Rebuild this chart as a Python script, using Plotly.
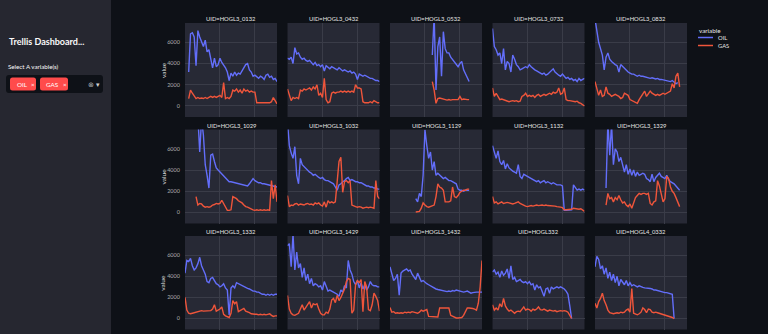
import plotly.graph_objects as go
from plotly.subplots import make_subplots

N = None
# shared time axis (months since first record, step 2)
months = list(range(0, 101, 2))

uid_titles = [
    "UID=HOGL3_0132", "UID=HOGL3_0432", "UID=HOGL3_0532", "UID=HOGL3_0732", "UID=HOGL3_0832",
    "UID=HOGL3_1029", "UID=HOGL3_1032", "UID=HOGL3_1129", "UID=HOGL3_1132", "UID=HOGL3_1329",
    "UID=HOGL3_1332", "UID=HOGL3_1429", "UID=HOGL3_1432", "UID=HOGL332", "UID=HOGL4_0332",
]
variables = ["OIL", "GAS"]
y_ticks = [0, 2000, 4000, 6000]

oil_0132 = [N, N, 3200, 6800, 6900, 6500, 3800, 7100, 6500, 6100,
            5600, 6200, 5100, 5300, 4300, 3600, 4500, 3700, 3900, 4500,
            4100, 3900, 3600, 3200, 2400, 3100, 2800, 3200, 2900, 3100,
            3000, 3300, 3600, 3900, 4000, 3400, 3200, 2800, 2900, 2700,
            2600, 2800, 2700, 2500, 2900, 3000, 2700, 2800, 2500, 2600,
            2300]
gas_0132 = [N, N, 700, 1500, 1200, 1000, 700, 800, 700, 750,
            700, 800, 700, 800, 900, 800, 900, 800, 900, 1000,
            800, 2200, 700, 800, 700, 900, 1500, 1400, 1600, 1300,
            1500, 1200, 1600, 1400, 1500, 1300, 1400, 1300, 1300, 300,
            300, 300, 300, 300, 300, 300, 300, 400, 800, 500,
            200]

oil_0432 = [4500, 4400, 4600, 4000, 5500, 4900, 5000, 4600, 4400, 4500,
            4300, 4200, 4300, 4100, 3900, 4100, 3800, 3900, 3700, 3900,
            3300, 3800, 3600, 3500, 3700, 3600, 3500, 3400, 3600, 3400,
            3300, 3400, 3300, 3200, 3300, 3100, 3200, 3000, 2500, 3000,
            2900, 2800, 2900, 2800, 2700, 2600, 2600, 2500, 2400, 2400,
            2300]
gas_0432 = [1600, 1000, 500, 800, 700, 800, 700, 1500, 1400, 1600,
            1500, 1600, 1700, 1500, 1800, 1600, 2000, 1000, 1200, 800,
            2600, 600, 300, 400, 1200, 1300, 1200, 1300, 1300, 1400,
            1300, 1400, 1300, 1400, 1300, 1400, 1300, 2000, 1700, 1700,
            1600, 400, 300, 300, 300, 400, 300, 500, 400, 300,
            300]

oil_0532 = [N, N, N, N, N, N, N, N, N, N,
            N, N, N, N, N, N, N, N, N, N,
            N, N, N, 4800, 8500, 1500, 5600, 6500, 2800, 7000,
            5400, 5000, 5000, 4600, 4400, 4200, 3900, 3700, 4000, 4200,
            3400, 3000, 2700, 2300, N, N, N, N, N, N,
            N]
gas_0532 = [N, N, N, N, N, N, N, N, N, N,
            N, N, N, N, N, N, N, N, N, N,
            N, N, N, 2300, 1500, 250, 700, 750, 700, 700,
            600, 550, 600, 550, 600, 600, 550, 600, 900, 600,
            650, 600, 600, 600, N, N, N, N, N, N,
            N]

oil_0732 = [7300, 5600, 5300, 4800, 5000, 4000, 5400, 3400, 4200, 4000,
            3200, 4800, 4400, 3900, 3700, 3400, 3500, 3600, 3700, 3600,
            3900, 3700, 3500, 3400, 3300, 3200, 3100, 3000, 3100, 2900,
            3000, 3200, 3400, 3500, 3200, 3000, 2900, 2800, 3000, 2800,
            2600, 2700, 2500, 2600, 2400, 2500, 2300, 2600, 2400, 2500,
            2600]
gas_0732 = [1700, 900, 1200, 900, 600, 650, 600, 500, 450, 400,
            450, 500, 450, 500, 400, 450, 900, 1000, 1200, 900,
            1000, 900, 1000, 800, 1000, 1100, 900, 1000, 1100, 1000,
            1100, 1200, 1100, 1300, 1200, 1300, 1700, 1100, 1200, 1700,
            600, 500, 500, 450, 450, 400, 450, 300, 250, 150,
            0]

oil_0832 = [8200, 7000, 6000, 5400, 4800, 3400, 4600, 5000, 4400, 4200,
            4000, 3900, 3800, 3200, 3900, 3700, 3500, 3400, 3200, 3100,
            3000, 3000, 2900, 2800, 2900, 2800, 2800, 2750, 2700, 2700,
            2600, 2650, 2600, 2550, 2600, 2500, 2500, 2450, 2400, 2400,
            2300, 2300, 2400, 2200, 2100, 2200, N, N, N, N,
            N]
gas_0832 = [2300, 1500, 1000, 1500, 900, 1000, 1800, 1200, 1100, 900,
            1000, 1100, 1000, 900, 700, 800, 1200, 1100, 1000, 600,
            500, 400, 300, 250, 600, 900, 1100, 1400, 900, 1100,
            1400, 1200, 1100, 1000, 1100, 1000, 1100, 1200, 1100, 1200,
            1300, 1400, 2100, 1700, 2800, 3100, 1800, N, N, N,
            N]

oil_1029 = [N, N, N, N, N, N, 9500, 9000, 5700, 8800,
            7300, 4500, 3500, 2300, 5400, 5500, 4800, 4200, 4000, 3800,
            3700, 3500, 3200, 3000, 2900, 2900, 2850, 2800, 2750, 2700,
            2650, 2600, 2550, 2500, 2500, 2700, 3000, 3200, 3000, 2900,
            2800, 2800, 2700, 2700, 2650, 2600, 2600, 2500, 2500, 2450,
            2400]
gas_1029 = [N, N, N, N, N, N, 1500, 700, 850, 800,
            600, 500, 550, 500, 550, 700, 750, 850, 800, 850,
            1150, 800, 400, 200, 200, 250, 1500, 1400, 1300, 1100,
            1000, 900, 700, 550, 500, 400, 300, 250, 200, 250,
            200, 250, 200, 250, 200, 250, 200, 3000, 1300, 2600,
            1000]

oil_1032 = [8500, 6300, 5600, 5100, 6200, 3500, 2700, 5100, 4500, 4300,
            4100, 3900, 3800, 3700, 3500, 3600, 3400, 3300, 3200, 3300,
            3100, 3000, 3000, 2900, 2800, 2700, 2400, 2100, 2600, 2700,
            2900, 3000, 3200, 3300, 3000, 3100, 3000, 2900, 2900, 2800,
            2800, 2700, 2600, 2500, 2500, 2400, 2400, 2300, 2300, 2200,
            2200]
gas_1032 = [1600, 550, 700, 650, 800, 850, 700, 800, 750, 700,
            800, 850, 750, 800, 700, 900, 800, 900, 700, 600,
            1000, 500, 1100, 900, 1000, 900, 1000, 2900, 4800, 5200,
            1900, 2900, 3000, 2800, 3000, 700, 600, 550, 500, 550,
            500, 400, 450, 500, 450, 500, 450, 400, 3000, 1500,
            1300]

oil_1129 = [N, N, N, N, N, N, N, N, N, N,
            N, N, N, N, 1300, 1000, 1800, 1500, 3500, 7800,
            6300, 5100, 5700, 4000, 4800, 3500, 3700, 3500, 3300, 3200,
            3300, 3100, 3000, 3000, 2900, 2800, 2700, 2200, 2100, 2100,
            2000, 2100, 2100, 2100, N, N, N, N, N, N,
            N]
gas_1129 = [N, N, N, N, N, N, N, N, N, N,
            N, N, N, N, 50, 80, 100, 400, 900, 700,
            550, 500, 550, 600, 700, 1500, 2700, 2400, 2300, 2100,
            1000, 1000, 1000, 1100, 2400, 1500, 1400, 1600, 1900, 2000,
            2100, 2100, 2200, 2200, N, N, N, N, N, N,
            N]

oil_1132 = [6300, 5700, 5100, 5800, 4800, 4500, 4900, 4100, 4600, 4200,
            4000, 3900, 3800, 3700, 4500, 3400, 3200, 3600, 3500, 3400,
            3300, 3200, 3100, 3000, 2900, 3000, 2800, 2900, 3000, 2800,
            2900, 2800, 2700, 2800, 2700, 2600, 2600, 2600, 2500, 200,
            200, 200, 200, 250, 2600, 2400, 2100, 2200, 2100, 2200,
            2100]
gas_1132 = [1500, 900, 1000, 800, 900, 1000, 850, 900, 950, 900,
            850, 800, 850, 900, 1000, 850, 750, 700, 600, 550,
            600, 650, 600, 650, 700, 650, 700, 700, 650, 700,
            650, 650, 600, 650, 600, 550, 550, 500, 450, 250,
            250, 250, 300, 300, 400, 350, 350, 300, 350, 200,
            100]

oil_1329 = [N, N, N, N, N, N, 2300, 8500, 5400, 8300,
            4500, 6000, 5700, 4800, 5200, 4500, 3800, 4500, 3600, 4100,
            3500, 4000, 3400, 3800, 3500, 3600, 3700, 3600, 3200, 3100,
            2900, 3600, 2900, 3300, 3500, 3700, 3400, 3300, 3200, 3500,
            3100, 2900, 2800, 2700, 2500, 2300, 2100, N, N, N,
            N]
gas_1329 = [N, N, N, N, N, N, 700, 1800, 1300, 1400,
            1000, 1400, 1200, 1600, 1200, 900, 1000, 700, 550, 800,
            400, 1000, 1400, 1600, 1800, 1700, 1800, 1800, 1700, 1800,
            850, 700, 1000, 1100, 3000, 2500, 1600, 1000, 1300, 3400,
            3200, 2400, 2000, 1800, 1400, 1000, 550, N, N, N,
            N]

oil_1332 = [4300, 5500, 5400, 5700, 5000, 4600, 4800, 5200, 5800, 5000,
            4600, 4200, 3500, 3400, 3800, 3900, 3600, 3300, 3200, 3000,
            3100, 3300, 2900, 2700, 350, 2900, 3100, 2900, 3400, 3300,
            3200, 3100, 3000, 2900, 2850, 2800, 2700, 2600, 2600, 2500,
            2500, 2400, 2300, 2300, 2200, 2300, 2200, 2300, 2200, 2300,
            2300]
gas_1332 = [2000, 800, 500, 450, 500, 550, 650, 700, 700, 750,
            700, 700, 750, 700, 750, 900, 1300, 700, 800, 900,
            1100, 400, 250, 200, 100, 500, 1700, 1400, 1600, 650,
            750, 850, 950, 700, 650, 550, 450, 400, 400, 400,
            350, 400, 350, 400, 350, 400, 450, 300, 200, 250,
            250]

oil_1429 = [6900, 7100, 4900, 8000, 4600, 6300, 4800, 5200, 3900, 4800,
            3600, 4200, 3300, 3800, 3100, 3300, 3200, 3000, 3100, 2700,
            3500, 3000, 2600, 2700, 2600, 2500, 2400, 2300, 2100, 2700,
            2500, 3100, 2900, 5500, 4600, 4200, 3500, 3200, 3600, 2900,
            3400, 2800, 3200, 2700, 3000, 3500, 3200, 3100, 3100, 3000,
            3000]
gas_1429 = [2200, 900, 500, 350, 300, 400, 500, 900, 1300, 800,
            1100, 1400, 1600, 1000, 1400, 1300, 1400, 900, 500, 350,
            350, 600, 500, 900, 1750, 1900, 1500, 2200, 1700, 2000,
            2400, 2800, 3500, 3800, 3700, 500, 800, 3200, 3600, 3400,
            3700, 650, 3500, 3000, 850, 750, 1300, 2400, 2100, 1700,
            700]

oil_1432 = [4900, 4300, 3600, 3800, 4200, 2200, 4300, 4500, 4600, 4700,
            4500, 4600, 4200, 3900, 3700, 4300, 3800, 3500, 3600, 3400,
            3300, 3200, 3100, 3000, 2850, 2800, 2750, 2700, 2650, 2600,
            2550, 2550, 2600, 2550, 2650, 2600, 2700, 2650, 2600, 2550,
            2500, 2550, 2600, 2500, 2400, 2450, 2500, 2500, 2500, 2500,
            2500]
gas_1432 = [1050, 600, 650, 500, 550, 500, 550, 500, 600, 550,
            600, 550, 650, 600, 550, 500, 600, 800, 700, 800,
            850, 200, 200, 150, 200, 150, 150, 1000, 1000, 1000,
            950, 1000, 1000, 300, 200, 100, 50, 50, 50, 100,
            300, 700, 1000, 1000, 1000, 950, 900, 800, 1450, 3000,
            5500]

oil_332 = [4400, 4600, 4200, 4400, 3900, 4500, 4100, 4300, 4700, 3800,
           5000, 3700, 3900, 3500, 3600, 3700, 3500, 3400, 3500, 3300,
           3500, 3200, 3300, 2700, 3200, 2900, 3000, 2500, 2100, 2800,
           2900, 2400, 3000, 2800, 2900, 3000, 2900, 3000, 2900, 2800,
           2600, 2300, 1200, 0, N, N, N, N, N, N,
           N]
gas_332 = [1300, 800, 1000, 800, 1400, 1100, 1900, 1200, 900, 700,
           800, 600, 500, 650, 700, 650, 900, 1100, 800, 900,
           850, 700, 900, 800, 900, 1100, 850, 800, 900, 800,
           700, 800, 750, 700, 750, 650, 700, 750, 700, 750,
           700, 600, 300, 0, N, N, N, N, N, N,
           N]

oil_4_0332 = [4900, 5900, 5600, 4700, 5000, 4200, 4800, 3800, 4400, 3600,
              4200, 3400, 4000, 3100, 3700, 3500, 3200, 3600, 3100, 3400,
              3100, 3200, 3100, 3000, 3100, 3000, 2950, 2900, 2900, 2850,
              2850, 2800, 2700, 2700, 2650, 2550, 2500, 2500, 2450, 2450,
              2400, 2400, 2300, 0, N, N, N, N, N, N,
              N]
gas_4_0332 = [1450, 1000, 1600, 1900, 2400, 1700, 1300, 800, 550, 500,
              450, 500, 550, 500, 600, 550, 600, 800, 900, 600,
              2850, 500, 400, 350, 450, 600, 1000, 850, 550, 900,
              850, 600, 550, 600, 550, 500, 450, 400, 350, 300,
              250, 150, 100, 0, N, N, N, N, N, N,
              N]

oil_series = [oil_0132, oil_0432, oil_0532, oil_0732, oil_0832,
              oil_1029, oil_1032, oil_1129, oil_1132, oil_1329,
              oil_1332, oil_1429, oil_1432, oil_332, oil_4_0332]
gas_series = [gas_0132, gas_0432, gas_0532, gas_0732, gas_0832,
              gas_1029, gas_1032, gas_1129, gas_1132, gas_1329,
              gas_1332, gas_1429, gas_1432, gas_332, gas_4_0332]

for s in oil_series + gas_series:
    assert len(s) == len(months), len(s)

# ---------------- styling / layout ----------------
W, H = 768, 334
BG = "#0e1117"
SIDEBAR = "#262730"
PANEL = "#272935"
GRID = "#3a3c48"
OIL_COLOR = "#636efa"
GAS_COLOR = "#EF553B"
FONT = "Lato"

col_px = [(185, 277), (287.5, 379.5), (390, 482), (492.5, 584.5), (595, 687)]
row_px = [(23, 117), (129.5, 223.5), (236, 329.5)]


def X(px):
    return px / W


def Y(py):
    return 1 - py / H


fig = make_subplots(rows=3, cols=5)

for k in range(15):
    r, c = divmod(k, 5)
    fig.add_trace(go.Scatter(x=months, y=oil_series[k], mode="lines", name=variables[0],
                             line=dict(color=OIL_COLOR, width=1.4), showlegend=False),
                  row=r + 1, col=c + 1)
    fig.add_trace(go.Scatter(x=months, y=gas_series[k], mode="lines", name=variables[1],
                             line=dict(color=GAS_COLOR, width=1.4), showlegend=False),
                  row=r + 1, col=c + 1)

annotations = []
for k in range(15):
    r, c = divmod(k, 5)
    i = k + 1
    xa = "xaxis" if i == 1 else f"xaxis{i}"
    ya = "yaxis" if i == 1 else f"yaxis{i}"
    x0, x1 = col_px[c]
    y0, y1 = row_px[r]
    fig.layout[xa].update(domain=[X(x0), X(x1)], range=[0, 100], tickvals=[38, 76],
                          showticklabels=False, showgrid=True, gridcolor=GRID, gridwidth=0.7,
                          zeroline=False, showline=False, ticks="")
    fig.layout[ya].update(domain=[Y(y1), Y(y0)], range=[-1040, 7820], tickvals=y_ticks,
                          showticklabels=(c == 0), showgrid=True, gridcolor=GRID, gridwidth=0.7,
                          zeroline=False, showline=False, ticks="outside", ticklen=3,
                          tickcolor="rgba(0,0,0,0)",
                          tickfont=dict(family=FONT, size=5.5, color="rgba(250,250,250,0.65)"))
    annotations.append(dict(text=uid_titles[k], x=X((x0 + x1) / 2), y=Y(y0 - 4.5),
                            xref="paper", yref="paper", showarrow=False,
                            xanchor="center", yanchor="middle",
                            font=dict(family=FONT, size=5.8, color="#e6e6e6")))
    if c == 0:
        annotations.append(dict(text="value", x=X(163), y=Y((y0 + y1) / 2),
                                xref="paper", yref="paper", showarrow=False, textangle=-90,
                                xanchor="center", yanchor="middle",
                                font=dict(family=FONT, size=6.5, color="#dddddd")))


def rrect(x0, y0, x1, y1, r):
    rx, ry = r, r
    return (f"M {X(x0 + rx)},{Y(y0)} L {X(x1 - rx)},{Y(y0)} Q {X(x1)},{Y(y0)} {X(x1)},{Y(y0 + ry)} "
            f"L {X(x1)},{Y(y1 - ry)} Q {X(x1)},{Y(y1)} {X(x1 - rx)},{Y(y1)} "
            f"L {X(x0 + rx)},{Y(y1)} Q {X(x0)},{Y(y1)} {X(x0)},{Y(y1 - ry)} "
            f"L {X(x0)},{Y(y0 + ry)} Q {X(x0)},{Y(y0)} {X(x0 + rx)},{Y(y0)} Z")


shapes = [
    dict(type="rect", xref="paper", yref="paper", x0=0, x1=X(111), y0=0, y1=1,
         fillcolor=SIDEBAR, line=dict(width=0), layer="below"),
    dict(type="path", xref="paper", yref="paper", path=rrect(6, 75, 103, 93, 3),
         fillcolor=BG, line=dict(width=0), layer="below"),
    dict(type="path", xref="paper", yref="paper", path=rrect(10, 77.5, 36, 90.5, 2.5),
         fillcolor="#ff4b4b", line=dict(width=0), layer="below"),
    dict(type="path", xref="paper", yref="paper", path=rrect(40, 77.5, 68, 90.5, 2.5),
         fillcolor="#ff4b4b", line=dict(width=0), layer="below"),
    # manual legend samples
    dict(type="line", xref="paper", yref="paper", x0=X(698), x1=X(713), y0=Y(37.5), y1=Y(37.5),
         line=dict(color=OIL_COLOR, width=1.5)),
    dict(type="line", xref="paper", yref="paper", x0=X(698), x1=X(713), y0=Y(45.5), y1=Y(45.5),
         line=dict(color=GAS_COLOR, width=1.5)),
]

side = [
    dict(text="<b>Trellis Dashboard...</b>", x=X(6.5), y=Y(41), size=9.0, color="#fafafa"),
    dict(text="Select A variable(s)", x=X(6), y=Y(66), size=6.2, color="#fafafa"),
    dict(text="OIL", x=X(14.5), y=Y(84), size=6.3, color="#ffffff"),
    dict(text="×", x=X(28.5), y=Y(84), size=6.3, color="#ffffff"),
    dict(text="GAS", x=X(43.5), y=Y(84), size=6.3, color="#ffffff"),
    dict(text="×", x=X(60.5), y=Y(84), size=6.3, color="#ffffff"),
    dict(text="⊗", x=X(85.5), y=Y(84), size=6.5, color="#b0b0b0"),
    dict(text="▾", x=X(94), y=Y(84), size=6.5, color="#d0d0d0"),
    dict(text="variable", x=X(697), y=Y(30), size=6.3, color="#e6e6e6"),
    dict(text=variables[0], x=X(715.5), y=Y(37.5), size=5.8, color="#e6e6e6"),
    dict(text=variables[1], x=X(715.5), y=Y(45.5), size=5.8, color="#e6e6e6"),
]
for s in side:
    annotations.append(dict(text=s["text"], x=s["x"], y=s["y"], xref="paper", yref="paper",
                            showarrow=False, xanchor="left", yanchor="middle",
                            font=dict(family=FONT, size=s["size"], color=s["color"])))

fig.update_layout(
    width=W, height=H, autosize=False,
    margin=dict(l=0, r=0, t=0, b=0, pad=0),
    paper_bgcolor=BG, plot_bgcolor=PANEL,
    showlegend=False,
    font=dict(family=FONT, color="#fafafa"),
    annotations=annotations,
    shapes=shapes,
)

fig.write_html("out.html", config={"displayModeBar": False})
